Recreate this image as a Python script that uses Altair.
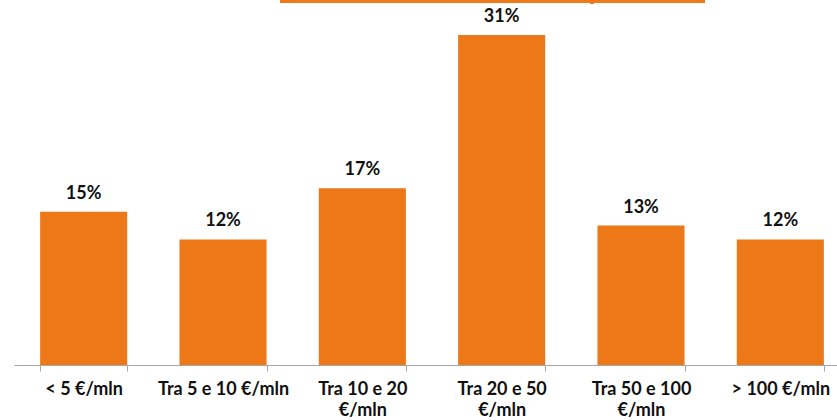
import altair as alt
import pandas as pd

categories = ["< 5 €/mln", "Tra 5 e 10 €/mln", "Tra 10 e 20|€/mln",
              "Tra 20 e 50|€/mln", "Tra 50 e 100|€/mln", "> 100 €/mln"]
values = [14.4, 11.8, 16.6, 31.0, 13.1, 11.8]
labels = ["15%", "12%", "17%", "31%", "13%", "12%"]

df = pd.DataFrame({"cat": categories, "val": values, "lab": labels})

ORANGE = "#ED7818"
FONT = "Lato"
FS = 18

x = alt.X("cat:N", sort=categories, title=None,
          scale=alt.Scale(range=[0, 836], paddingInner=0.375, paddingOuter=0.1875),
          axis=alt.Axis(labelAngle=0, labelFont=FONT, labelFontSize=FS,
                        labelFontWeight="bold", labelColor="#111111",
                        labelExpr="split(datum.label, '|')", labelLineHeight=21,
                        labelPadding=9, labelBaseline="top",
                        domainColor="#A6A6A6", tickColor="#A6A6A6",
                        tickSize=6, tickBand="extent", grid=False,
                        labelLimit=200))
y = alt.Y("val:Q", scale=alt.Scale(domain=[0, 34.3], nice=False), axis=None)

bars = alt.Chart(df).mark_bar(color=ORANGE).encode(x=x, y=y)
text = alt.Chart(df).mark_text(dy=-9, baseline="bottom", font=FONT, fontSize=FS,
                               fontWeight="bold", color="#111111").encode(
    x=alt.X("cat:N", sort=categories), y="val:Q", text="lab:N")

top_line = alt.Chart(df).mark_rule(color=ORANGE, strokeWidth=2).encode(
    x=alt.value(266), x2=alt.value(691), y=alt.value(1.5))
top_tick = alt.Chart(df).mark_rule(color=ORANGE, strokeWidth=3).encode(
    x=alt.value(578), y=alt.value(0), y2=alt.value(4))

chart = alt.layer(bars, text, top_line, top_tick).properties(
    width=823, height=365,
    autosize=alt.AutoSizeParams(type="none"),
    padding={"left": 14, "top": 0, "right": 0, "bottom": 55},
).configure_view(stroke=None)

chart.save("out.html", embed_options={"renderer": "svg", "actions": False})
